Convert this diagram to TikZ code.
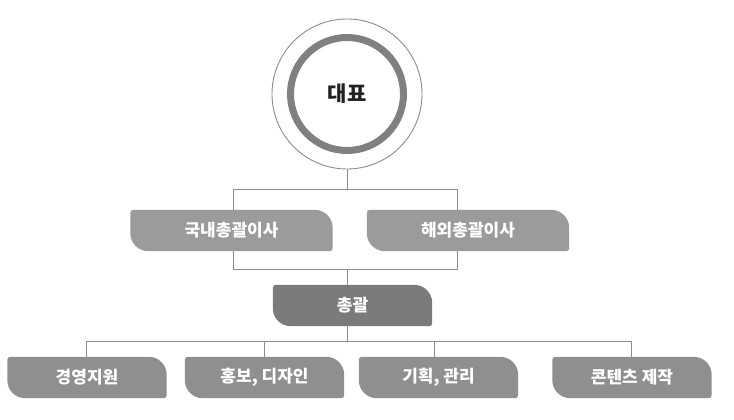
\documentclass[tikz,border=0pt]{standalone}
\usepackage{fontspec}
\setmainfont{Noto Sans CJK KR}
\usepackage{tikz}
\usetikzlibrary{backgrounds}
\definecolor{ringgray}{RGB}{128,128,128}
\definecolor{linegray}{RGB}{140,140,140}
\definecolor{execgray}{RGB}{155,155,155}
\definecolor{headgray}{RGB}{123,123,123}
\definecolor{teamgray}{RGB}{143,143,143}
\definecolor{titleink}{RGB}{34,34,34}

\begin{document}
\begin{tikzpicture}[
  x=1pt, y=-1pt,
  conn/.style={draw=linegray, line width=1pt},
  leaf/.style={rectangle, inner sep=0pt, minimum height=41pt, text=white,
    font=\bfseries\fontsize{17}{19}\selectfont},
  exec/.style={leaf, minimum width=202pt},
  team/.style={leaf, minimum width=159pt}
]
\useasboundingbox (0,0) rectangle (734,420);

% top: the representative
\node[circle, draw=linegray, line width=0.9pt, minimum size=150pt] (ceo) at (347,94) {};
\draw[ringgray, line width=7pt] (ceo.center) circle (56.5);
\node[text=titleink, font=\bfseries\fontsize{21}{24}\selectfont] (ceoname) at (347,94) {대표};

% directors
\node[exec] (dom) at (231.5,230.5) {국내총괄이사};
\node[exec] (ovs) at (468,230.5) {해외총괄이사};
\node[leaf, minimum width=159pt] (hq) at (352.5,305.5) {총괄};

% teams
\node[team] (mgmt) at (87,377.5) {경영지원};
\node[team] (promo) at (264.5,377.5) {홍보, 디자인};
\node[team] (plan) at (438.5,377.5) {기획, 관리};
\node[team] (cont) at (632,377.5) {콘텐츠 제작};

% leaf shaped fills behind the labels
\begin{scope}[on background layer]
\foreach \n/\c in {dom/execgray, ovs/execgray, hq/headgray,
                   mgmt/teamgray, promo/teamgray, plan/teamgray, cont/teamgray}
  \fill[\c] (\n.north) [rounded corners=18pt] -- (\n.north east)
    [rounded corners=3pt] -- (\n.south east)
    [rounded corners=18pt] -- (\n.south west)
    [rounded corners=3pt] -- (\n.north west)
    [sharp corners] -- cycle;
\end{scope}

% connectors
\coordinate (split) at (347,189);
\coordinate (join) at (347,269);
\coordinate (fan) at (347,341);
\draw[conn] (ceo.south) -- (split);
\draw[conn] (split) -| ([xshift=1.5pt]dom.north);
\draw[conn] (split) -| ([xshift=-11pt]ovs.north);
\draw[conn] ([xshift=1.5pt]dom.south) |- (join);
\draw[conn] ([xshift=-11pt]ovs.south) |- (join);
\draw[conn] (join) -- (join |- hq.north);
\draw[conn] (hq.south -| fan) -- (fan);
\draw[conn] (fan) -| ([xshift=-1pt]mgmt.north);
\draw[conn] (fan) -| (promo.north);
\draw[conn] (fan) -| ([xshift=-4.5pt]plan.north);
\draw[conn] (fan) -| ([xshift=-1pt]cont.north);
\end{tikzpicture}
\end{document}
